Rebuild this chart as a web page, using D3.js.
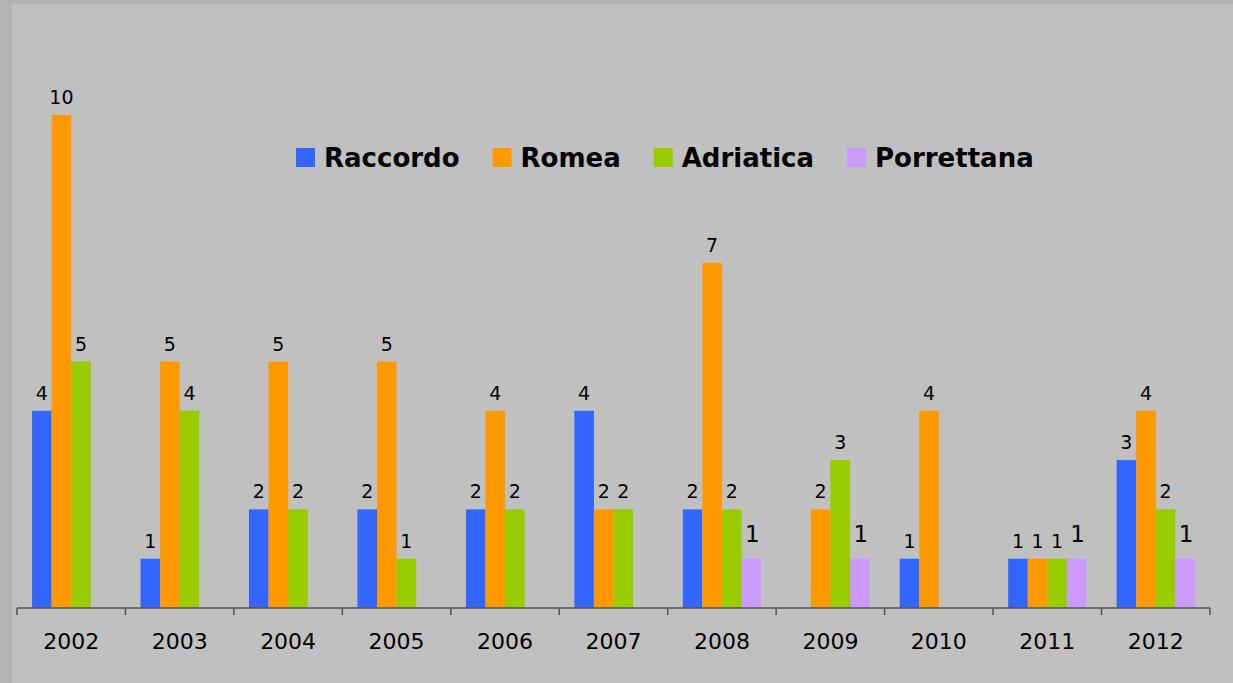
<!DOCTYPE html>
<html>
<head>
<meta charset="utf-8">
<script src="https://cdn.jsdelivr.net/npm/d3@7"></script>
<style>
  html, body { margin: 0; padding: 0; background: #b3b3b3; }
  svg { display: block; }
</style>
</head>
<body>
<script>
const years = ["2002","2003","2004","2005","2006","2007","2008","2009","2010","2011","2012"];
const series = ["Raccordo", "Romea", "Adriatica", "Porrettana"];
const colors = ["#3366ff", "#ff9900", "#99cc00", "#cc99ff"];
const raccordo   = [4, 1, 2, 2, 2, 4, 2, 0, 1, 1, 3];
const romea      = [10, 5, 5, 5, 4, 2, 7, 2, 4, 1, 4];
const adriatica  = [5, 4, 2, 1, 2, 2, 2, 3, 0, 1, 2];
const porrettana = [0, 0, 0, 0, 0, 0, 1, 1, 0, 1, 1];
const values = [raccordo, romea, adriatica, porrettana];

const W = 1233, H = 683;
const svg = d3.select("body").append("svg").attr("width", W).attr("height", H);

// panel background
svg.append("rect").attr("x", 12).attr("y", 4).attr("width", W - 12).attr("height", H - 4)
  .attr("fill", "#c0c0c0");

const x0 = d3.scaleBand().domain(years).range([17, 1210]).padding(0);
const x1 = d3.scaleBand().domain(series).range([0, x0.bandwidth()]).paddingInner(0).paddingOuter(0.77);
const y = d3.scaleLinear().domain([0, 10]).range([608, 115]);

const g = svg.append("g");
series.forEach((s, si) => {
  values[si].forEach((v, i) => {
    if (v === 0) return;
    const bx = x0(years[i]) + x1(s);
    g.append("rect")
      .attr("x", bx).attr("y", y(v))
      .attr("width", x1.bandwidth()).attr("height", y(0) - y(v))
      .attr("fill", colors[si]);
    const big = si === 3;
    g.append("text")
      .attr("x", bx + x1.bandwidth() / 2 + (big ? 1 : 0))
      .attr("y", y(v) - (big ? 17 : 11))
      .attr("text-anchor", "middle")
      .attr("font-family", "DejaVu Sans")
      .attr("font-size", big ? 23 : 19)
      .attr("fill", "#000")
      .text(v);
  });
});

// x axis
const axis = svg.append("g").attr("transform", "translate(0,608)");
axis.append("line").attr("x1", 17).attr("x2", 1210).attr("y1", 0).attr("y2", 0)
  .attr("stroke", "#555").attr("stroke-width", 1.5);
const edges = years.map(d => x0(d)).concat([x0.range()[1]]);
axis.selectAll(".tk").data(edges).enter().append("line")
  .attr("x1", d => d).attr("x2", d => d).attr("y1", 0).attr("y2", 7)
  .attr("stroke", "#555").attr("stroke-width", 1.5);
axis.selectAll(".lb").data(years).enter().append("text")
  .attr("x", d => x0(d) + x0.bandwidth() / 2)
  .attr("y", 41)
  .attr("text-anchor", "middle")
  .attr("font-family", "DejaVu Sans")
  .attr("font-size", 22)
  .attr("fill", "#000")
  .text(d => d);

// legend
const leg = svg.append("g");
let lx = 296;
series.forEach((s, si) => {
  leg.append("rect").attr("x", lx).attr("y", 148).attr("width", 19).attr("height", 19)
    .attr("fill", colors[si]);
  const t = leg.append("text").attr("x", lx + 28).attr("y", 167)
    .attr("font-family", "DejaVu Sans").attr("font-weight", "bold")
    .attr("font-size", 26).attr("fill", "#000").text(s);
  lx += 28 + t.node().getComputedTextLength() + 33;
});
</script>
</body>
</html>
